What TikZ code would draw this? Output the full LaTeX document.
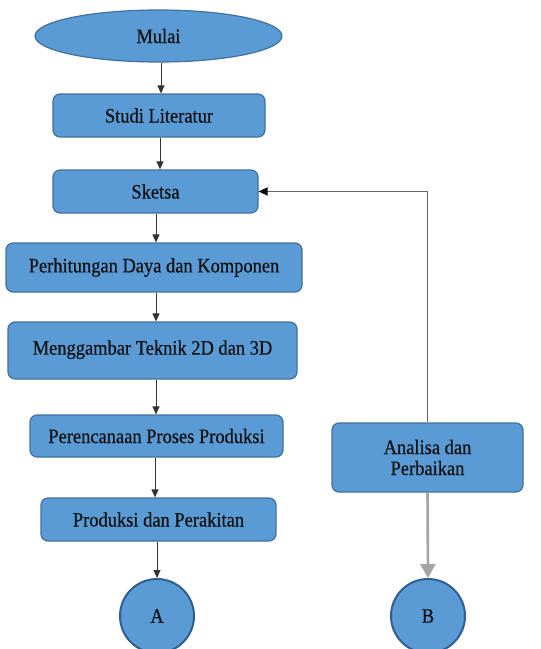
\documentclass[tikz,border=0pt]{standalone}
\usepackage{fontspec}
\setmainfont{Liberation Serif}[FakeStretch=0.9,FakeBold=0.5]
\usetikzlibrary{shapes.geometric,arrows.meta}
\definecolor{boxfill}{HTML}{5B9BD5}
\definecolor{boxline}{HTML}{41719C}
\definecolor{circline}{HTML}{2F5F8F}
\definecolor{fbgray}{HTML}{666666}
\definecolor{lightgray2}{HTML}{A5A5A5}
\definecolor{txt}{HTML}{111111}
\tikzset{
  stepbox/.style={draw=boxline, fill=boxfill, line width=1.2pt, rounded corners=7pt,
    rectangle, inner sep=0pt, align=center, text=txt, font=\fontsize{20.5}{21}\selectfont},
  startnode/.style={draw=boxline, fill=boxfill, line width=1.2pt, ellipse, inner sep=0pt,
    text=txt, font=\fontsize{20.5}{21}\selectfont},
  connnode/.style={draw=circline, fill=boxfill, line width=2pt, circle, inner sep=0pt,
    minimum size=74pt, text=txt, font=\fontsize{20.5}{21}\selectfont},
  arr/.style={draw=black!80, line width=1pt, -{Triangle[length=8pt,width=7pt]}},
  fbline/.style={draw=fbgray, line width=1.4pt, -{Triangle[length=9pt,width=8pt,color=black]}},
  bigarr/.style={draw=lightgray2, line width=2.6pt, -{Triangle[length=14pt,width=15pt]}},
}
\begin{document}
\begin{tikzpicture}[x=1pt,y=-1pt]
\useasboundingbox (0,0) rectangle (541,649);
\fill[white] (0,0) rectangle (541,649);
\node[startnode, minimum width=247pt, minimum height=52pt] (mulai) at (158.5,36) {Mulai};
\node[stepbox, minimum width=212pt, minimum height=43pt] (studi) at (159,115.5) {Studi Literatur};
\node[stepbox, minimum width=205pt, minimum height=43pt] (sketsa) at (155.5,191.5) {Sketsa};
\node[stepbox, minimum width=296pt, minimum height=49pt] (hitung) at (154,267.5) {Perhitungan Daya dan Komponen};
\node[stepbox, minimum width=289pt, minimum height=57pt] (gambar) at (152.5,350.5) {\raisebox{6pt}{Menggambar Teknik 2D dan 3D}};
\node[stepbox, minimum width=253pt, minimum height=42pt] (rencana) at (156.5,436) {Perencanaan Proses Produksi};
\node[stepbox, minimum width=235pt, minimum height=43pt] (produksi) at (158.5,519.5) {Produksi dan Perakitan};
\node[connnode] (A) at (157,616) {A};
\node[stepbox, minimum width=191pt, minimum height=69pt] (analisa) at (427.5,457.5) {Analisa dan\\Perbaikan};
\node[connnode] (B) at (428,616) {B};

\draw[arr] (mulai.south -| 161,0) -- (161,0 |- studi.north);
\draw[arr] (studi.south -| 160,0) -- (160,0 |- sketsa.north);
\draw[arr] (sketsa.south -| 156,0) -- (156,0 |- hitung.north);
\draw[arr] (hitung.south -| 156,0) -- (156,0 |- gambar.north);
\draw[arr] (gambar.south -| 156,0) -- (156,0 |- rencana.north);
\draw[arr] (rencana.south -| 155,0) -- (155,0 |- produksi.north);
\draw[arr] (produksi.south -| 157,0) -- (A.north);
\draw[fbline] (analisa.north) |- (sketsa.east);
\draw[bigarr] (analisa.south) -- (B.north);
\end{tikzpicture}
\end{document}
